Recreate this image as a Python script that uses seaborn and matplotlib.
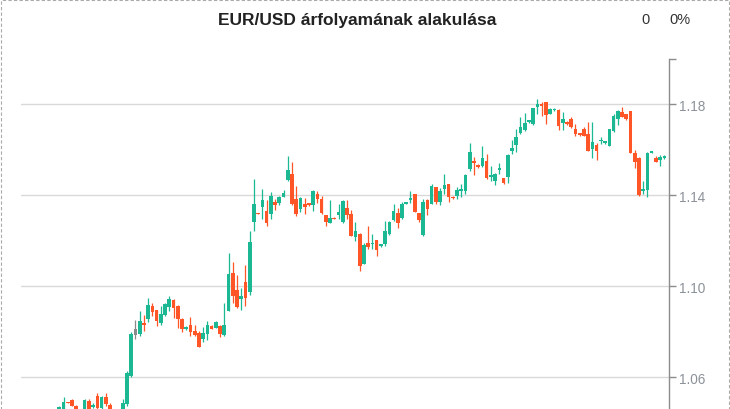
import numpy as np
import pandas as pd
import matplotlib
matplotlib.use("Agg")
import matplotlib.pyplot as plt
import seaborn as sns
from matplotlib.patches import Rectangle

title = "EUR/USD árfolyamának alakulása"
change_abs = "0"
change_pct = "0%"
ytick_values = [1.06, 1.10, 1.14, 1.18]
ytick_labels = ["1.06", "1.10", "1.14", "1.18"]

opens = [1.0440, 1.0450, 1.0490, 1.0499, 1.0472, 1.0430, 1.0440, 1.0494, 1.0469, 1.0516,
         1.0462, 1.0513, 1.0477, 1.0445, 1.0435, 1.0450, 1.0481, 1.0603, 1.0786, 1.0790,
         1.0839, 1.0855, 1.0911, 1.0894, 1.0839, 1.0874, 1.0907, 1.0938, 1.0912, 1.0854,
         1.0811, 1.0829, 1.0803, 1.0795, 1.0767, 1.0789, 1.0825, 1.0817, 1.0825, 1.0785,
         1.0892, 1.1058, 1.0983, 1.0944, 1.1017, 1.0975, 1.1283, 1.1322, 1.1349, 1.1330,
         1.1317, 1.1370, 1.1368, 1.1393, 1.1466, 1.1492, 1.1382, 1.1339, 1.1360, 1.1365,
         1.1357, 1.1404, 1.1382, 1.1312, 1.1278, 1.1302, 1.1314, 1.1283, 1.1344, 1.1317,
         1.1218, 1.1229, 1.1098, 1.1188, 1.1185, 1.1204, 1.1175, 1.1185, 1.1229, 1.1290,
         1.1321, 1.1299, 1.1363, 1.1378, 1.1404, 1.1321, 1.1225, 1.1378, 1.1364, 1.1436,
         1.1371, 1.1426, 1.1449, 1.1393, 1.1397, 1.1419, 1.1419, 1.1516, 1.1550, 1.1533,
         1.1528, 1.1550, 1.1482, 1.1463, 1.1510, 1.1475, 1.1481, 1.1595, 1.1620, 1.1673,
         1.1686, 1.1722, 1.1712, 1.1788, 1.1803, 1.1809, 1.1760, 1.1775, 1.1774, 1.1717,
         1.1722, 1.1738, 1.1690, 1.1673, 1.1693, 1.1668, 1.1604, 1.1620, 1.1638, 1.1629,
         1.1617, 1.1681, 1.1734, 1.1765, 1.1756, 1.1769, 1.1588, 1.1566, 1.1418, 1.1423,
         1.1588, 1.1566, 1.1557, 1.1564]
highs = [1.0471, 1.0513, 1.0491, 1.0503, 1.0476, 1.0452, 1.0503, 1.0503, 1.0486, 1.0530,
         1.0518, 1.0530, 1.0486, 1.0452, 1.0456, 1.0503, 1.0627, 1.0799, 1.0851, 1.0890,
         1.0872, 1.0947, 1.0928, 1.0896, 1.0913, 1.0926, 1.0957, 1.0943, 1.0919, 1.0858,
         1.0825, 1.0863, 1.0829, 1.0803, 1.0820, 1.0846, 1.0829, 1.0846, 1.0829, 1.0926,
         1.1145, 1.1106, 1.1049, 1.0990, 1.1092, 1.1242, 1.1470, 1.1324, 1.1426, 1.1378,
         1.1415, 1.1385, 1.1397, 1.1422, 1.1573, 1.1546, 1.1441, 1.1393, 1.1387, 1.1367,
         1.1424, 1.1417, 1.1397, 1.1315, 1.1378, 1.1303, 1.1364, 1.1378, 1.1378, 1.1334,
         1.1282, 1.1233, 1.1188, 1.1266, 1.1229, 1.1205, 1.1187, 1.1285, 1.1287, 1.1360,
         1.1344, 1.1372, 1.1368, 1.1417, 1.1406, 1.1324, 1.1382, 1.1382, 1.1449, 1.1438,
         1.1434, 1.1492, 1.1451, 1.1395, 1.1436, 1.1452, 1.1492, 1.1629, 1.1568, 1.1536,
         1.1616, 1.1580, 1.1528, 1.1498, 1.1541, 1.1477, 1.1580, 1.1642, 1.1690, 1.1744,
         1.1762, 1.1732, 1.1785, 1.1826, 1.1809, 1.1810, 1.1785, 1.1784, 1.1778, 1.1765,
         1.1725, 1.1743, 1.1712, 1.1675, 1.1700, 1.1721, 1.1721, 1.1630, 1.1658, 1.1640,
         1.1692, 1.1760, 1.1774, 1.1787, 1.1760, 1.1771, 1.1598, 1.1568, 1.1463, 1.1590,
         1.1594, 1.1572, 1.1576, 1.1577]
lows = [1.0430, 1.0440, 1.0485, 1.0472, 1.0430, 1.0420, 1.0430, 1.0445, 1.0464, 1.0459,
        1.0458, 1.0474, 1.0438, 1.0425, 1.0428, 1.0445, 1.0474, 1.0600, 1.0767, 1.0781,
        1.0803, 1.0841, 1.0870, 1.0825, 1.0830, 1.0871, 1.0891, 1.0861, 1.0814, 1.0799,
        1.0808, 1.0779, 1.0779, 1.0731, 1.0755, 1.0763, 1.0811, 1.0814, 1.0777, 1.0779,
        1.0890, 1.0925, 1.0904, 1.0896, 1.0913, 1.0963, 1.1244, 1.1316, 1.1295, 1.1265,
        1.1295, 1.1334, 1.1357, 1.1391, 1.1463, 1.1356, 1.1309, 1.1327, 1.1317, 1.1354,
        1.1329, 1.1368, 1.1317, 1.1265, 1.1276, 1.1295, 1.1295, 1.1278, 1.1295, 1.1219,
        1.1199, 1.1067, 1.1096, 1.1162, 1.1162, 1.1133, 1.1173, 1.1175, 1.1225, 1.1288,
        1.1255, 1.1295, 1.1361, 1.1368, 1.1325, 1.1283, 1.1223, 1.1312, 1.1360, 1.1364,
        1.1357, 1.1404, 1.1371, 1.1385, 1.1386, 1.1393, 1.1404, 1.1507, 1.1488, 1.1522,
        1.1524, 1.1474, 1.1463, 1.1445, 1.1492, 1.1451, 1.1453, 1.1580, 1.1590, 1.1668,
        1.1682, 1.1720, 1.1708, 1.1760, 1.1747, 1.1716, 1.1759, 1.1773, 1.1686, 1.1686,
        1.1711, 1.1695, 1.1661, 1.1662, 1.1660, 1.1594, 1.1563, 1.1555, 1.1624, 1.1627,
        1.1615, 1.1679, 1.1709, 1.1743, 1.1733, 1.1586, 1.1520, 1.1399, 1.1404, 1.1393,
        1.1586, 1.1547, 1.1529, 1.1562]
closes = [1.0469, 1.0490, 1.0486, 1.0474, 1.0440, 1.0440, 1.0499, 1.0452, 1.0478, 1.0465,
          1.0513, 1.0481, 1.0445, 1.0435, 1.0450, 1.0486, 1.0618, 1.0789, 1.0811, 1.0846,
          1.0830, 1.0916, 1.0887, 1.0847, 1.0877, 1.0921, 1.0942, 1.0904, 1.0854, 1.0812,
          1.0822, 1.0799, 1.0786, 1.0733, 1.0795, 1.0829, 1.0813, 1.0841, 1.0789, 1.0829,
          1.1053, 1.0956, 1.0910, 1.0956, 1.0950, 1.1193, 1.1360, 1.1318, 1.1378, 1.1278,
          1.1397, 1.1357, 1.1391, 1.1410, 1.1510, 1.1360, 1.1317, 1.1387, 1.1349, 1.1356,
          1.1417, 1.1382, 1.1321, 1.1283, 1.1302, 1.1296, 1.1326, 1.1374, 1.1312, 1.1222,
          1.1244, 1.1087, 1.1183, 1.1172, 1.1192, 1.1160, 1.1185, 1.1242, 1.1281, 1.1330,
          1.1277, 1.1360, 1.1366, 1.1389, 1.1327, 1.1290, 1.1371, 1.1342, 1.1440, 1.1371,
          1.1418, 1.1444, 1.1393, 1.1387, 1.1422, 1.1426, 1.1488, 1.1589, 1.1541, 1.1524,
          1.1563, 1.1476, 1.1488, 1.1494, 1.1519, 1.1453, 1.1576, 1.1607, 1.1656, 1.1699,
          1.1717, 1.1730, 1.1783, 1.1800, 1.1793, 1.1752, 1.1778, 1.1782, 1.1703, 1.1734,
          1.1713, 1.1702, 1.1671, 1.1664, 1.1661, 1.1595, 1.1634, 1.1595, 1.1645, 1.1637,
          1.1690, 1.1747, 1.1769, 1.1746, 1.1734, 1.1588, 1.1546, 1.1401, 1.1428, 1.1588,
          1.1592, 1.1548, 1.1570, 1.1575]
neutral_days = [18]

GREEN = "#1bb893"
RED = "#ff5527"
GRAY = "#8a8a8a"

df = pd.DataFrame({"day": np.arange(len(opens)), "open": opens, "high": highs,
                   "low": lows, "close": closes})
df["color"] = np.where(df["close"] >= df["open"], GREEN, RED)
df.loc[neutral_days, "color"] = GRAY
df["bottom"] = df[["open", "close"]].min(axis=1)
df["height"] = (df["close"] - df["open"]).abs().clip(lower=0.0006)

sns.set_theme(style="white")
plt.rcParams["font.family"] = ["Liberation Sans", "DejaVu Sans"]

W, H = 730, 410
fig = plt.figure(figsize=(W / 100, H / 100), dpi=100)
y_top, y_bot = 1.20, 1.02
ax = fig.add_axes([21 / W, -0.1439, 648 / W, 0.9976])

ax.vlines(df["day"], df["low"], df["high"], colors=df["color"], linewidth=0.9, zorder=2)
ax.bar(df["day"], df["height"], bottom=df["bottom"], width=0.86,
       color=df["color"], linewidth=0, zorder=3)

ax.set_xlim(-9.05, 144.1)
ax.set_ylim(y_bot, y_top)
ax.set_xticks([])
ax.yaxis.tick_right()
ax.set_yticks(ytick_values)
ax.set_yticklabels(ytick_labels)
ax.set_yticks([y_top], minor=True)
ax.tick_params(axis="y", which="both", right=True, length=5, width=1, color="#8c8c8c",
               labelcolor="#8c9199", labelsize=9.8, pad=2)
ax.grid(axis="y", which="major", color="#d9d9d9", linewidth=1, zorder=0)
ax.set_facecolor("white")
for s in ["top", "left", "bottom"]:
    ax.spines[s].set_visible(False)
ax.spines["right"].set_color("#8c8c8c")
ax.spines["right"].set_linewidth(1)

fig.text(357 / W, 1 - 20 / H, title, ha="center", va="center", fontsize=12.5,
         fontweight="bold", color="#222222")
fig.text(645.5 / W, 1 - 20.5 / H, change_abs, ha="center", va="center", fontsize=10.5,
         color="#333333")
fig.text(679.5 / W, 1 - 20.5 / H, change_pct, ha="center", va="center", fontsize=10.5,
         color="#333333")

fig.patches.append(Rectangle((0.5 / W, -0.1), 728.8 / W, 1.1 - 0.5 / H,
                             transform=fig.transFigure, fill=False,
                             edgecolor="#aaaaaa", linewidth=0.8,
                             linestyle=(0, (3, 2)), zorder=10))

fig.savefig("out.png", dpi=100, facecolor="white")
